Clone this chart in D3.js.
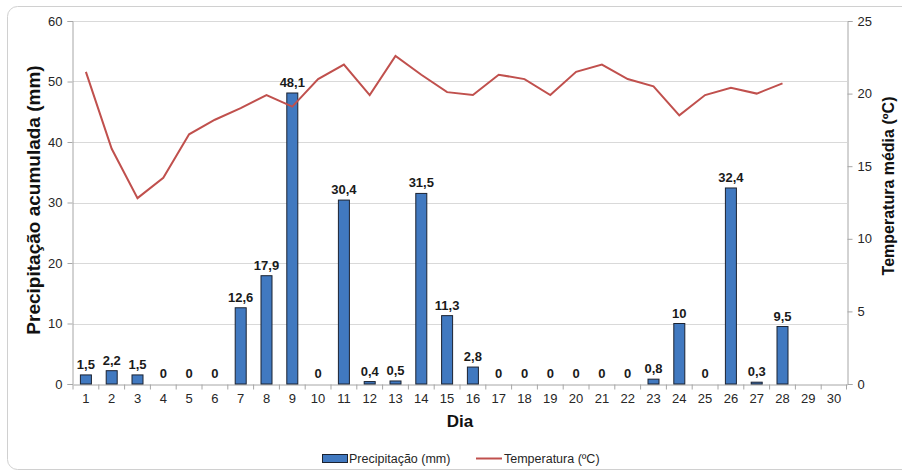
<!DOCTYPE html>
<html>
<head>
<meta charset="utf-8">
<script src="https://cdn.jsdelivr.net/npm/d3@7"></script>
<style>
  body { margin: 0; background: #fff; }
  svg text { font-family: "Liberation Sans", Arial, sans-serif; }
</style>
</head>
<body>
<svg id="chart" width="902" height="475"></svg>
<script>
// Data
const dias = d3.range(1, 31).map(String);
const precipitacao = [1.5, 2.2, 1.5, 0, 0, 0, 12.6, 17.9, 48.1, 0, 30.4, 0.4, 0.5, 31.5, 11.3, 2.8,
  0, 0, 0, 0, 0, 0, 0.8, 10, 0, 32.4, 0.3, 9.5, null, null];
const temperatura = [21.5, 16.2, 12.8, 14.2, 17.2, 18.2, 19.0, 19.9, 19.1, 21.0, 22.0, 19.9, 22.6, 21.3,
  20.1, 19.9, 21.3, 21.0, 19.9, 21.5, 22.0, 21.0, 20.5, 18.5, 19.9, 20.4, 20.0, 20.7, null, null];
const precTicks = [0, 10, 20, 30, 40, 50, 60];
const tempTicks = [0, 5, 10, 15, 20, 25];

const margin = { left: 73, right: 55, top: 21, bottom: 91 };
const width = 902, height = 475;
const svg = d3.select("#chart");

// Frame
svg.append("rect")
  .attr("x", 7.5).attr("y", 6.5)
  .attr("width", 910).attr("height", 463)
  .attr("rx", 10)
  .attr("fill", "none").attr("stroke", "#d0d0d0");

const x = d3.scaleBand().domain(dias).range([margin.left, width - margin.right]);
const yL = d3.scaleLinear().domain([0, 60]).range([height - margin.bottom, margin.top]);
const yR = d3.scaleLinear().domain([0, 25]).range([height - margin.bottom, margin.top]);

// Gridlines
svg.append("g").selectAll("line").data(precTicks.slice(1)).join("line")
  .attr("x1", margin.left).attr("x2", width - margin.right)
  .attr("y1", d => Math.round(yL(d)) + 0.5).attr("y2", d => Math.round(yL(d)) + 0.5)
  .attr("stroke", "#d9d9d9");

// Left axis
const axL = svg.append("g").attr("transform", `translate(${margin.left - 0.5},0)`)
  .call(d3.axisLeft(yL).tickValues(precTicks).tickSize(5).tickPadding(5));
// Right axis
const axR = svg.append("g").attr("transform", `translate(${width - margin.right + 0.5},0)`)
  .call(d3.axisRight(yR).tickValues(tempTicks).tickSize(5).tickPadding(5));
// Bottom axis
const axB = svg.append("g").attr("transform", `translate(0,${height - margin.bottom + 0.5})`)
  .call(d3.axisBottom(x).tickSize(0).tickPadding(9));
axB.selectAll(".tick").append("line")
  .attr("x1", -x.bandwidth() / 2).attr("x2", -x.bandwidth() / 2)
  .attr("y1", 0).attr("y2", 5).attr("stroke", "#a6a6a6");
axB.append("line").attr("x1", x.range()[1] - 0.5).attr("x2", x.range()[1] - 0.5)
  .attr("y1", 0).attr("y2", 5).attr("stroke", "#a6a6a6");

[axL, axR, axB].forEach(a => {
  a.select(".domain").attr("stroke", "#a6a6a6");
  a.selectAll(".tick line").attr("stroke", "#a6a6a6");
  a.selectAll("text").attr("font-size", 13).attr("fill", "#262626")
    .attr("font-family", "'Liberation Sans', Arial, sans-serif");
});

// Bars
const barW = 11;
const bars = precipitacao.map((v, i) => ({ dia: dias[i], v })).filter(d => d.v !== null);
svg.append("g").selectAll("rect").data(bars.filter(d => d.v > 0)).join("rect")
  .attr("x", d => x(d.dia) + x.bandwidth() / 2 - barW / 2)
  .attr("y", d => yL(d.v))
  .attr("width", barW)
  .attr("height", d => yL(0) - yL(d.v))
  .attr("fill", "#4179c0")
  .attr("stroke", "#1b2230").attr("stroke-width", 1);

svg.append("g").selectAll("text").data(bars).join("text")
  .attr("x", d => x(d.dia) + x.bandwidth() / 2)
  .attr("y", d => yL(d.v) - 6)
  .attr("text-anchor", "middle")
  .attr("font-size", 13).attr("font-weight", "bold").attr("fill", "#1a1a1a")
  .text(d => String(d.v).replace(".", ","));

// Temperature line
const line = d3.line()
  .defined(d => d !== null)
  .x((d, i) => x(dias[i]) + x.bandwidth() / 2)
  .y(d => yR(d));
svg.append("path").datum(temperatura)
  .attr("d", line)
  .attr("fill", "none").attr("stroke", "#c0504d").attr("stroke-width", 2);

// Axis titles
svg.append("text")
  .attr("transform", "translate(40,200) rotate(-90)")
  .attr("text-anchor", "middle")
  .attr("font-size", 19).attr("font-weight", "bold").attr("fill", "#111")
  .text("Precipitação acumulada (mm)");
svg.append("text")
  .attr("transform", "translate(894,186) rotate(-90)")
  .attr("text-anchor", "middle")
  .attr("font-size", 16).attr("font-weight", "bold").attr("fill", "#111")
  .text("Temperatura média (ºC)");
svg.append("text")
  .attr("x", 460).attr("y", 427)
  .attr("text-anchor", "middle")
  .attr("font-size", 17).attr("font-weight", "bold").attr("fill", "#111")
  .text("Dia");

// Legend
const lg = svg.append("g");
lg.append("rect").attr("x", 322.5).attr("y", 454.5).attr("width", 25).attr("height", 8)
  .attr("fill", "#4179c0").attr("stroke", "#1b2230");
lg.append("text").attr("x", 349).attr("y", 463).attr("font-size", 12.5).attr("fill", "#262626")
  .attr("font-family", "Roboto, sans-serif")
  .text("Precipitação (mm)");
lg.append("line").attr("x1", 476).attr("x2", 502).attr("y1", 458.5).attr("y2", 458.5)
  .attr("stroke", "#c0504d").attr("stroke-width", 2);
lg.append("text").attr("x", 504).attr("y", 463).attr("font-size", 12.5).attr("fill", "#262626")
  .attr("font-family", "Roboto, sans-serif")
  .text("Temperatura (ºC)");
</script>
</body>
</html>
